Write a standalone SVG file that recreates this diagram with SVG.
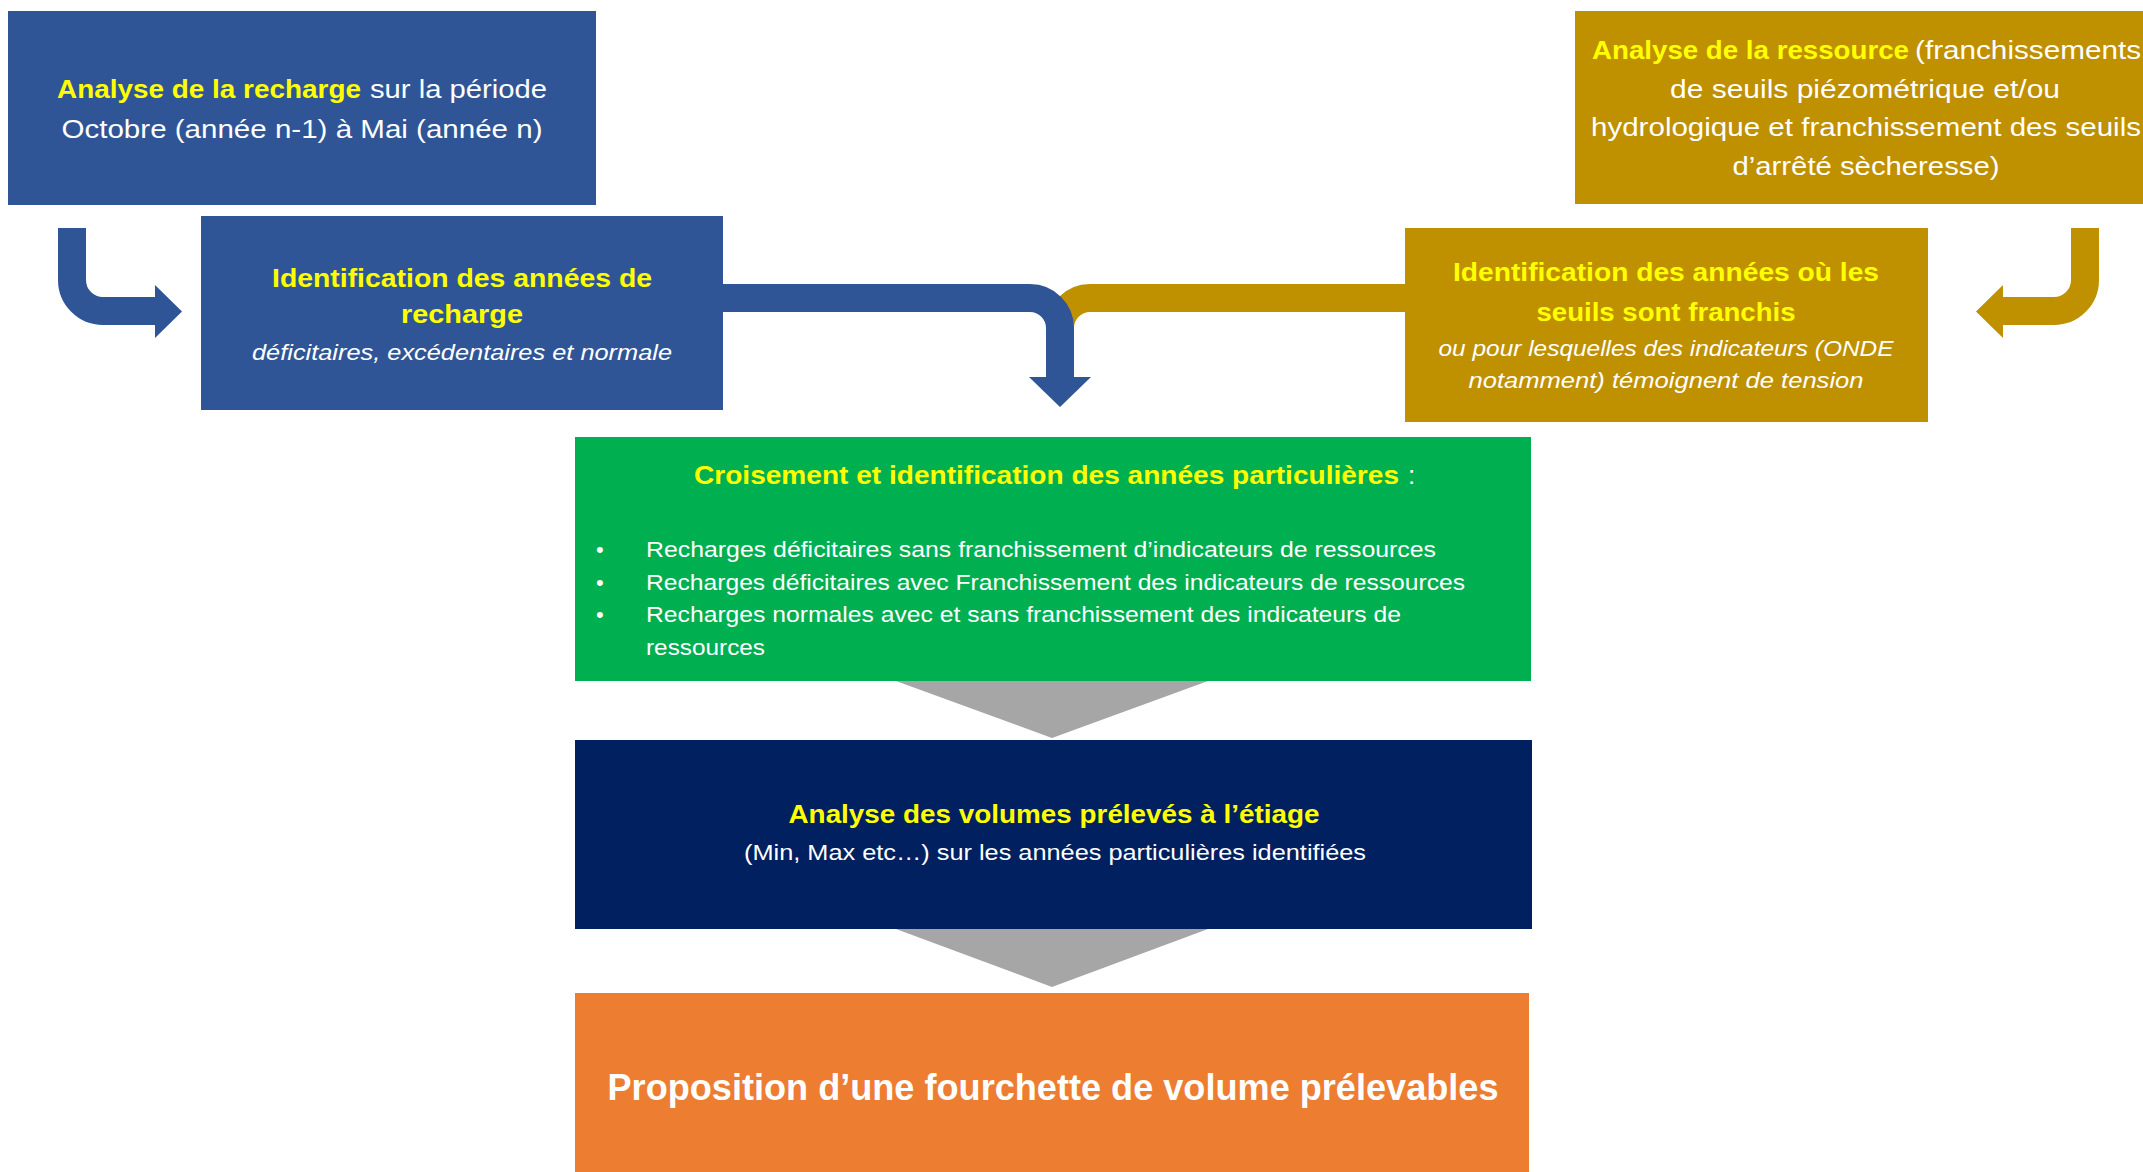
<svg xmlns="http://www.w3.org/2000/svg" width="2143" height="1172" viewBox="0 0 2143 1172">
<style>
text{font-family:"Liberation Sans",Arial,sans-serif;}
.y{fill:#FFFF00;font-weight:bold;}
.w{fill:#FFFFFF;}
.it{font-style:italic;}
.c{text-anchor:middle;}
.blue{fill:#2F5597;}
.gold{fill:#BF9000;}
.lb{fill:none;stroke:#2F5597;stroke-width:28;}
.lg{fill:none;stroke:#BF9000;stroke-width:28;}
.tri{fill:#A6A6A6;}
</style>
<rect width="2143" height="1172" fill="#FFFFFF"/>
<g id="connectors">
<path class="lb" d="M72 228 V280 A31 31 0 0 0 103 311 H157"/>
<polygon class="blue" points="155,285 155,338 182,311.5"/>
<path class="lg" d="M2085 228 V280 A31 31 0 0 1 2054 311 H2000"/>
<polygon class="gold" points="2003,285 2003,338 1976,311.5"/>
<path class="lg" d="M1407 298 H1090 A30 30 0 0 0 1060 328 V350"/>
<path class="lb" d="M722 298 H1030 A30 30 0 0 1 1060 328 V379"/>
<polygon class="blue" points="1029,377 1091,377 1060,407"/>
<polygon class="tri" points="896,681 1208,681 1052,738"/>
<polygon class="tri" points="896,929 1208,929 1052,987"/>
</g>
<g id="n1">
<rect class="blue" x="8" y="11" width="588" height="194"/>
<text class="y" x="57" y="98" font-size="26" textLength="304" lengthAdjust="spacingAndGlyphs">Analyse de la recharge</text>
<text class="w" x="370" y="98" font-size="26" textLength="177" lengthAdjust="spacingAndGlyphs">sur la période</text>
<text class="w c" x="302" y="138" font-size="26" textLength="481" lengthAdjust="spacingAndGlyphs">Octobre (année n-1) à Mai (année n)</text>
</g>
<g id="n2">
<rect class="blue" x="201" y="216" width="522" height="194"/>
<text class="y c" x="462" y="287" font-size="26" textLength="380" lengthAdjust="spacingAndGlyphs">Identification des années de</text>
<text class="y c" x="462" y="323" font-size="26" textLength="122" lengthAdjust="spacingAndGlyphs">recharge</text>
<text class="w c it" x="462" y="360" font-size="22" textLength="420" lengthAdjust="spacingAndGlyphs">déficitaires, excédentaires et normale</text>
</g>
<g id="n3">
<rect class="gold" x="1575" y="11" width="600" height="193"/>
<text class="y" x="1592" y="59" font-size="26" textLength="317" lengthAdjust="spacingAndGlyphs">Analyse de la ressource</text>
<text class="w" x="1915" y="59" font-size="26" textLength="226" lengthAdjust="spacingAndGlyphs">(franchissements</text>
<text class="w c" x="1865" y="98" font-size="26" textLength="390" lengthAdjust="spacingAndGlyphs">de seuils piézométrique et/ou</text>
<text class="w c" x="1866" y="136" font-size="26" textLength="550" lengthAdjust="spacingAndGlyphs">hydrologique et franchissement des seuils</text>
<text class="w c" x="1866" y="175" font-size="26" textLength="267" lengthAdjust="spacingAndGlyphs">d’arrêté sècheresse)</text>
</g>
<g id="n4">
<rect class="gold" x="1405" y="228" width="523" height="194"/>
<text class="y c" x="1666" y="281" font-size="26" textLength="426" lengthAdjust="spacingAndGlyphs">Identification des années où les</text>
<text class="y c" x="1666" y="321" font-size="26" textLength="259" lengthAdjust="spacingAndGlyphs">seuils sont franchis</text>
<text class="w c it" x="1666" y="356" font-size="22" textLength="455" lengthAdjust="spacingAndGlyphs">ou pour lesquelles des indicateurs (ONDE</text>
<text class="w c it" x="1666" y="388" font-size="22" textLength="395" lengthAdjust="spacingAndGlyphs">notamment) témoignent de tension</text>
</g>
<g id="n5">
<rect x="575" y="437" width="956" height="244" fill="#00B050"/>
<text class="y" x="694" y="484" font-size="26" textLength="705" lengthAdjust="spacingAndGlyphs">Croisement et identification des années particulières</text>
<text class="w" x="1408" y="484" font-size="26">:</text>
<text class="w" x="596" y="557" font-size="22">•</text>
<text class="w" x="596" y="590" font-size="22">•</text>
<text class="w" x="596" y="622" font-size="22">•</text>
<text class="w" x="646" y="557" font-size="22" textLength="790" lengthAdjust="spacingAndGlyphs">Recharges déficitaires sans franchissement d’indicateurs de ressources</text>
<text class="w" x="646" y="590" font-size="22" textLength="819" lengthAdjust="spacingAndGlyphs">Recharges déficitaires avec Franchissement des indicateurs de ressources</text>
<text class="w" x="646" y="622" font-size="22" textLength="755" lengthAdjust="spacingAndGlyphs">Recharges normales avec et sans franchissement des indicateurs de</text>
<text class="w" x="646" y="655" font-size="22" textLength="119" lengthAdjust="spacingAndGlyphs">ressources</text>
</g>
<g id="n6">
<rect x="575" y="740" width="957" height="189" fill="#002060"/>
<text class="y c" x="1054" y="823" font-size="26" textLength="531" lengthAdjust="spacingAndGlyphs">Analyse des volumes prélevés à l’étiage</text>
<text class="w c" x="1055" y="860" font-size="22" textLength="622" lengthAdjust="spacingAndGlyphs">(Min, Max etc…) sur les années particulières identifiées</text>
</g>
<g id="n7">
<rect x="575" y="993" width="954" height="179" fill="#ED7D31"/>
<text class="w c" x="1053" y="1100" font-size="36" font-weight="bold" textLength="891" lengthAdjust="spacingAndGlyphs">Proposition d’une fourchette de volume prélevables</text>
</g>
</svg>
